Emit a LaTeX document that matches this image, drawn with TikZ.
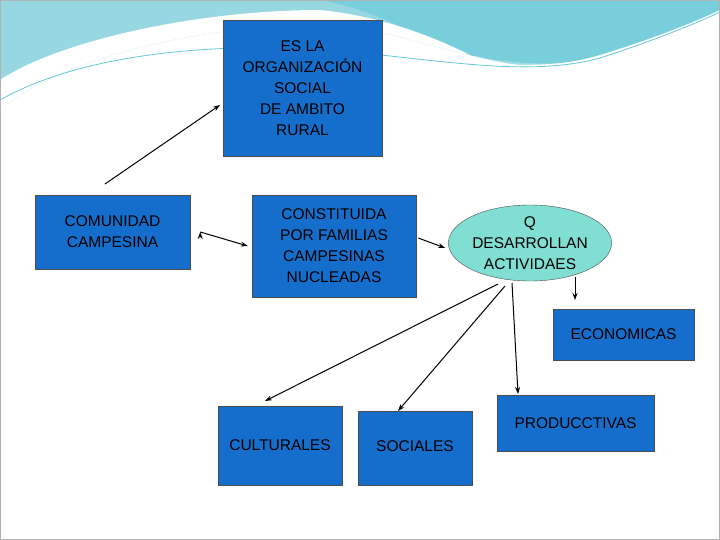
\documentclass[tikz,border=0pt]{standalone}
\usepackage{fontspec}
\setmainfont{Liberation Sans}
\usetikzlibrary{shapes.geometric,arrows.meta}
\definecolor{boxblue}{RGB}{22,110,204}
\definecolor{teal1}{RGB}{128,222,210}
\definecolor{wave1}{RGB}{150,215,225}
\definecolor{wave2}{RGB}{100,200,215}
\begin{document}
\begin{tikzpicture}[x=1pt,y=-1pt,
  box/.style={draw=black!70,fill=boxblue,inner sep=0pt,align=center,font=\fontsize{15.5}{21}\selectfont},
  arr/.style={-{Stealth[length=7pt,width=5pt]},line width=1pt}]
\useasboundingbox (0,0) rectangle (720,540);
\fill[white] (0,0) rectangle (720,540);
% decoration waves
\fill[wave1] (0,0) -- (720,0) -- (720,10) .. controls (650,60) and (560,75) .. (470,55) .. controls (420,45) and (360,20) .. (300,25) .. controls (180,30) and (60,60) .. (0,110) -- cycle;
\fill[wave2,opacity=0.6] (320,0) -- (720,0) -- (720,30) .. controls (660,70) and (560,80) .. (470,55) .. controls (420,40) and (380,10) .. (320,0) -- cycle;
\fill[white] (0,110) .. controls (60,60) and (180,30) .. (300,25) .. controls (360,20) and (420,45) .. (470,55) .. controls (420,30) and (370,15) .. (320,10) .. controls (200,10) and (60,40) .. (0,80) -- cycle;
\fill[white] (0,110) .. controls (80,50) and (200,40) .. (300,45) .. controls (420,50) and (520,80) .. (600,55) .. controls (650,40) and (700,20) .. (720,10) -- (720,540) -- (0,540) -- cycle;
\draw[wave2,line width=0.8pt] (0,100) .. controls (80,55) and (200,45) .. (300,48) .. controls (420,55) and (520,80) .. (600,58) .. controls (650,42) and (700,22) .. (720,12);
\draw[gray!60] (0.5,0.5) rectangle (719.5,539.5);
% nodes
\node[box,minimum width=159pt,minimum height=136pt] (es) at (302.5,88) {ES LA\\ORGANIZACIÓN\\SOCIAL\\DE AMBITO\\RURAL};
\node[box,minimum width=155pt,minimum height=74pt] (com) at (112.5,232) {COMUNIDAD\\CAMPESINA};
\node[box,minimum width=164pt,minimum height=102pt] (con) at (334,246) {CONSTITUIDA\\POR FAMILIAS\\CAMPESINAS\\NUCLEADAS};
\node[ellipse,draw=black!70,fill=teal1,minimum width=144pt,minimum height=76pt,inner sep=0pt,align=center,font=\fontsize{15.5}{21}\selectfont] (q) at (530,243) {Q\\DESARROLLAN\\ACTIVIDAES};
\node[box,minimum width=141pt,minimum height=51pt] (eco) at (623.5,334.5) {ECONOMICAS};
\node[box,minimum width=157pt,minimum height=56pt,anchor=north west,text depth=0pt] (pro) at (497,395) {};
\node[font=\fontsize{15.5}{21}\selectfont] (prot) at (575.5,423) {PRODUCCTIVAS};
\node[box,minimum width=114pt,minimum height=74pt] (soc) at (415,448) {\raisebox{4pt}{SOCIALES}};
\node[box,minimum width=124pt,minimum height=79pt] (cul) at (280,445.5) {CULTURALES};
% connectors
\coordinate (a0) at (105,184);
\coordinate (a1) at (220,105);
\draw[arr] (a0) -- (a1);
\draw[arr] (com.east) ++(10,0) coordinate (b0);
\draw[arr] (b0) -- ([xshift=-4pt]con.west);
\draw[arr] ([xshift=2pt]con.east |- q) ++(0,-5) coordinate (c0) -- ([xshift=-3pt,yshift=-5pt]q.west);
\coordinate (d0) at (575,277); \coordinate (d1) at (575,300);
\draw[arr] (d0) -- (d1);
\coordinate (e0) at (498,284); \coordinate (e1) at (265,401);
\draw[arr] (e0) -- (e1);
\coordinate (f0) at (505,286); \coordinate (f1) at (398,411);
\draw[arr] (f0) -- (f1);
\coordinate (g0) at (512,283); \coordinate (g1) at (518,394);
\draw[arr] (g0) -- (g1);
\end{tikzpicture}
\end{document}
